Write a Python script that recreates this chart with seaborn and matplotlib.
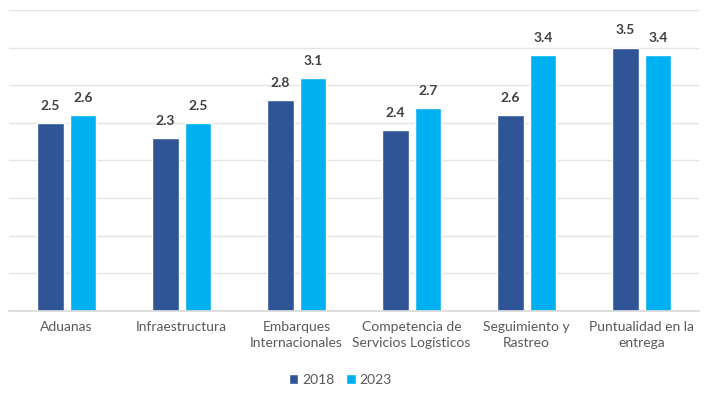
import pandas as pd
import matplotlib.pyplot as plt
import seaborn as sns

# Datos
categorias = ["Aduanas", "Infraestructura", "Embarques\nInternacionales",
              "Competencia de\nServicios Logísticos", "Seguimiento y\nRastreo",
              "Puntualidad en la\nentrega"]
valores_2018 = [2.5, 2.3, 2.8, 2.4, 2.6, 3.5]
valores_2023 = [2.6, 2.5, 3.1, 2.7, 3.4, 3.4]
anios = ["2018", "2023"]
colores = ["#2F5597", "#00B0F0"]


def graficar():
    df = pd.DataFrame({
        "categoria": categorias * 2,
        "anio": [anios[0]] * len(categorias) + [anios[1]] * len(categorias),
        "valor": valores_2018 + valores_2023,
    })

    sns.set_theme(style="white")
    plt.rcParams["font.family"] = ["Lato", "DejaVu Sans"]

    fig, ax = plt.subplots(figsize=(7.09, 3.93), dpi=100)
    fig.subplots_adjust(left=0.0127, right=0.986, top=0.9746, bottom=0.2087)

    sns.barplot(data=df, x="categoria", y="valor", hue="anio",
                palette=colores, width=0.565, gap=0.185, ax=ax,
                legend=True, saturation=1)

    # Etiquetas de valor
    for cont in ax.containers:
        ax.bar_label(cont, fmt="%.1f", padding=8, fontsize=10,
                     fontweight="bold", color="#404040")

    ax.set_ylim(0, 4)
    ax.set_yticks([i * 0.5 for i in range(9)])
    ax.yaxis.grid(True, color="#E4E4E4", linewidth=1)
    ax.set_axisbelow(True)
    ax.tick_params(axis="y", left=False, labelleft=False)
    ax.tick_params(axis="x", bottom=False, labelsize=10, labelcolor="#595959", pad=1)
    for etiqueta in ax.get_xticklabels():
        etiqueta.set_linespacing(1.45)
    ax.set_xlabel("")
    ax.set_ylabel("")
    for lado in ["top", "right", "left"]:
        ax.spines[lado].set_visible(False)
    ax.spines["bottom"].set_color("#D9D9D9")

    handles, labels = ax.get_legend_handles_labels()
    ax.get_legend().remove()
    fig.legend(handles, labels, loc="center", bbox_to_anchor=(0.48, 0.033),
               ncol=2, frameon=False, fontsize=10, handlelength=0.7,
               handleheight=0.7, handletextpad=0.3, columnspacing=0.8,
               labelcolor="#595959")

    fig.savefig("out.png", dpi=100)


if __name__ == "__main__":
    graficar()
